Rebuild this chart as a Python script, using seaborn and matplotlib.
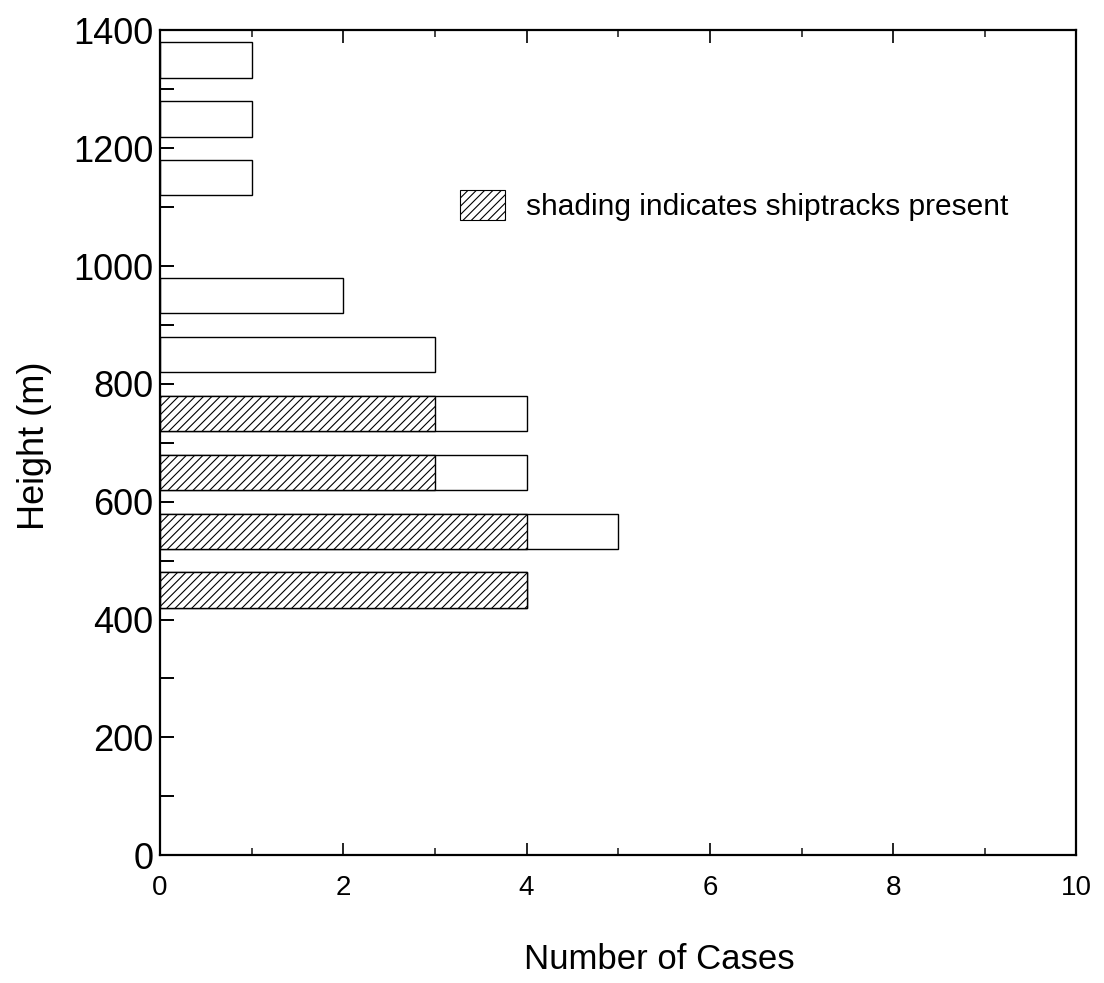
"""
Shiptrack height histogram: number of cases per height bin,
with hatching for the cases where shiptracks were present.
"""

import matplotlib.pyplot as plt
import pandas as pd
import seaborn as sns
from matplotlib.patches import Patch
from matplotlib.ticker import MultipleLocator

sns.set_theme(style="ticks")
plt.rcParams["font.family"] = ["Liberation Sans", "DejaVu Sans"]
plt.rcParams["hatch.linewidth"] = 0.8
plt.rcParams["xtick.labelsize"] = 20
plt.rcParams["ytick.labelsize"] = 26
plt.rcParams["text.color"] = "black"
plt.rcParams["axes.labelcolor"] = "black"

# bin centres (m) and counts
heights = [450, 550, 650, 750, 850, 950, 1150, 1250, 1350]
total_cases = [4, 5, 4, 4, 3, 2, 1, 1, 1]
shiptrack_cases = [4, 4, 3, 3, 0, 0, 0, 0, 0]

df = pd.DataFrame({"height": heights, "total": total_cases, "ship": shiptrack_cases})
shaded = df[df["ship"] > 0]

fig = plt.figure(figsize=(11.04, 9.83), dpi=100)
ax = fig.add_axes([0.145, 0.130, 0.830, 0.839])

sns.barplot(
    data=df, x="total", y="height", orient="h", native_scale=True,
    width=0.6, color="white", edgecolor="black", linewidth=1.0,
    saturation=1, ax=ax,
)
sns.barplot(
    data=shaded, x="ship", y="height", orient="h", native_scale=True,
    width=0.6, color="white", edgecolor="black", linewidth=1.0,
    saturation=1, hatch="////", ax=ax,
)

ax.set_xlim(0, 10)
ax.set_ylim(0, 1400)
ax.xaxis.set_major_locator(MultipleLocator(2))
ax.xaxis.set_minor_locator(MultipleLocator(1))
ax.yaxis.set_major_locator(MultipleLocator(200))
ax.yaxis.set_minor_locator(MultipleLocator(100))

for side in ax.spines.values():
    side.set_linewidth(1.6)
    side.set_color("black")

ax.tick_params(axis="x", which="major", direction="in", length=9, width=1.2,
               top=True, labelsize=20, pad=14, colors="black")
ax.tick_params(axis="x", which="minor", direction="in", length=5, width=1.2,
               top=True)
ax.tick_params(axis="y", which="both", direction="in", length=10, width=1.4,
               right=False, labelsize=26, pad=5, colors="black")
plt.setp(ax.get_xticklabels(), fontsize=20)
plt.setp(ax.get_yticklabels(), fontsize=26)

ax.set_xlabel("Number of Cases", fontsize=25, color="black")
ax.set_ylabel("Height (m)", fontsize=26, color="black")
ax.xaxis.set_label_coords(0.545, -0.106)
ax.yaxis.set_label_coords(-0.118, 0.497)

handle = Patch(facecolor="white", edgecolor="black", hatch="////", linewidth=0.8)
leg = ax.legend(
    [handle], ["shading indicates shiptracks present"],
    loc="center left", bbox_to_anchor=(0.298, 0.788), frameon=False,
    fontsize=21.5, handlelength=1.5, handleheight=1.2, handletextpad=0.7,
)
for t in leg.get_texts():
    t.set_color("black")

fig.savefig("out.png", dpi=100)
plt.close(fig)
